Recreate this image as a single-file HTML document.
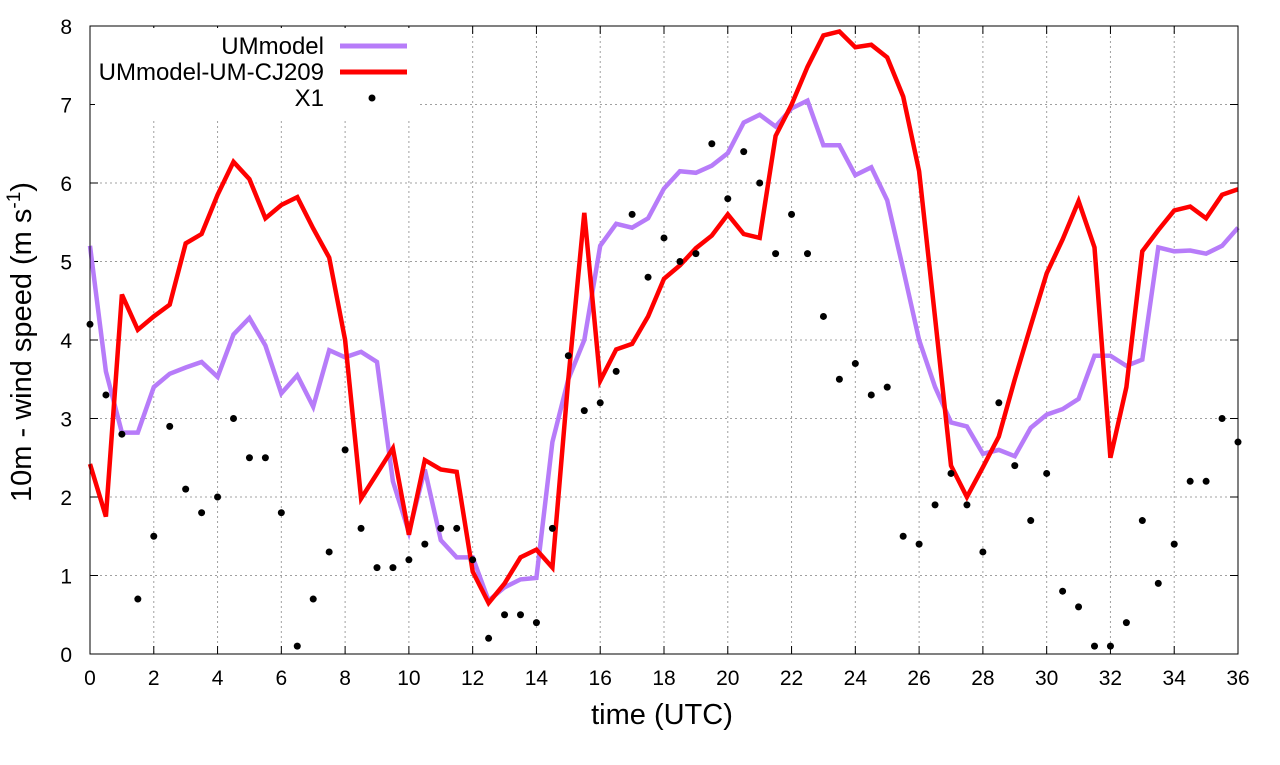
<!DOCTYPE html>
<html><head><meta charset="utf-8"><style>
body{margin:0;background:#fff;}
svg text{font-family:"Liberation Sans",sans-serif;fill:#000;}
</style></head><body>
<svg id="chart" width="1280" height="760" xmlns="http://www.w3.org/2000/svg">
<g id="grid"></g>
<g id="ticks"></g>
<g id="series"></g>
<rect x="90" y="26" width="1148" height="628" fill="none" stroke="#000" stroke-width="1"/>
<text x="662" y="724" font-size="29" text-anchor="middle">time (UTC)</text>
<text transform="translate(31,342) rotate(-90)" font-size="29" text-anchor="middle">10m - wind speed  (m s<tspan font-size="19" dy="-11">-1</tspan><tspan dy="11">)</tspan></text>
<g id="legend">
<rect x="95" y="28" width="325" height="90" fill="#fff"/>
<text x="324" y="54" font-size="24" text-anchor="end">UMmodel</text>
<line x1="340" y1="46" x2="407" y2="46" stroke="#b77cf9" stroke-width="5"/>
<text x="324" y="80" font-size="24" text-anchor="end">UMmodel-UM-CJ209</text>
<line x1="340" y1="72" x2="407" y2="72" stroke="#f00" stroke-width="5"/>
<text x="324" y="106" font-size="24" text-anchor="end">X1</text>
<circle cx="372" cy="98" r="3.5" fill="#000"/>
</g>
</svg>
<script>
const xTicks=[0,2,4,6,8,10,12,14,16,18,20,22,24,26,28,30,32,34,36];
const yTicks=[0,1,2,3,4,5,6,7,8];
const umModel=[5.2,3.6,2.82,2.82,3.4,3.57,3.65,3.72,3.53,4.07,4.28,3.93,3.32,3.55,3.15,3.87,3.78,3.85,3.72,2.2,1.55,2.35,1.45,1.23,1.23,0.68,0.85,0.95,0.97,2.7,3.5,4.0,5.2,5.48,5.43,5.55,5.93,6.15,6.13,6.22,6.38,6.77,6.87,6.72,6.95,7.05,6.48,6.48,6.1,6.2,5.78,4.9,4.0,3.4,2.95,2.9,2.55,2.6,2.52,2.88,3.05,3.12,3.25,3.8,3.8,3.67,3.75,5.18,5.13,5.14,5.1,5.2,5.43];
const umCJ209=[2.42,1.75,4.58,4.13,4.3,4.45,5.23,5.35,5.85,6.27,6.05,5.55,5.72,5.82,5.42,5.05,4.0,1.98,2.3,2.62,1.52,2.47,2.35,2.32,1.05,0.65,0.9,1.23,1.33,1.1,3.5,5.62,3.48,3.88,3.95,4.3,4.78,4.95,5.17,5.33,5.6,5.35,5.3,6.6,7.0,7.48,7.88,7.93,7.73,7.76,7.6,7.1,6.15,4.28,2.4,2.0,2.38,2.77,3.5,4.18,4.85,5.28,5.77,5.18,2.5,3.4,5.13,5.4,5.65,5.7,5.55,5.85,5.92];
const x1Obs=[4.2,3.3,2.8,0.7,1.5,2.9,2.1,1.8,2.0,3.0,2.5,2.5,1.8,0.1,0.7,1.3,2.6,1.6,1.1,1.1,1.2,1.4,1.6,1.6,1.2,0.2,0.5,0.5,0.4,1.6,3.8,3.1,3.2,3.6,5.6,4.8,5.3,5.0,5.1,6.5,5.8,6.4,6.0,5.1,5.6,5.1,4.3,3.5,3.7,3.3,3.4,1.5,1.4,1.9,2.3,1.9,1.3,3.2,2.4,1.7,2.3,0.8,0.6,0.1,0.1,0.4,1.7,0.9,1.4,2.2,2.2,3.0,2.7];
const timeStep=0.5;
const NS="http://www.w3.org/2000/svg";
const X0=90,X1=1238,Y0=654,Y1=26;
function xs(v){return X0+(v-0)/(36-0)*(X1-X0);}
function ys(v){return Y0-(v-0)/(8-0)*(Y0-Y1);}
function mk(t,a,p){const e=document.createElementNS(NS,t);for(const k in a)e.setAttribute(k,a[k]);p.appendChild(e);return e;}
const grid=document.getElementById('grid'),ticks=document.getElementById('ticks'),ser=document.getElementById('series');
xTicks.forEach(t=>{
 const x=xs(t);
 if(t>0&&t<36){const g=mk('line',{x1:x,y1:Y1,x2:x,y2:Y0,stroke:'#a0a0a0','stroke-width':1,'stroke-dasharray':'2,3'},grid);
 
 }
 mk('line',{x1:x,y1:Y0,x2:x,y2:Y0-8,stroke:'#000'},ticks);
 mk('line',{x1:x,y1:Y1,x2:x,y2:Y1+8,stroke:'#000'},ticks);
 const l=mk('text',{x:x,y:Y0+31,'font-size':21,'text-anchor':'middle'},ticks);l.textContent=t;
 
 
});
yTicks.forEach(t=>{
 const y=ys(t);
 if(t>0&&t<8){const g=mk('line',{x1:X0,y1:y,x2:X1,y2:y,stroke:'#a0a0a0','stroke-width':1,'stroke-dasharray':'2,3'},grid);
 
 }
 mk('line',{x1:X0,y1:y,x2:X0+8,y2:y,stroke:'#000'},ticks);
 mk('line',{x1:X1,y1:y,x2:X1-8,y2:y,stroke:'#000'},ticks);
 const l=mk('text',{x:X0-18,y:y+8,'font-size':21,'text-anchor':'end'},ticks);l.textContent=t;
 
 
});
function path(arr){return arr.map((v,i)=>(i?'L':'M')+xs(i*timeStep).toFixed(1)+','+ys(v).toFixed(1)).join('');}
const p1=mk('path',{d:path(umModel),fill:'none',stroke:'#b77cf9','stroke-width':4.5,'stroke-linejoin':'miter'},ser);


const p2=mk('path',{d:path(umCJ209),fill:'none',stroke:'#f00','stroke-width':4.5,'stroke-linejoin':'miter'},ser);


x1Obs.forEach((v,i)=>{
 const c=mk('circle',{cx:xs(i*timeStep),cy:ys(v),r:3.5,fill:'#000'},ser);
 
 
});
</script>
</body></html>
